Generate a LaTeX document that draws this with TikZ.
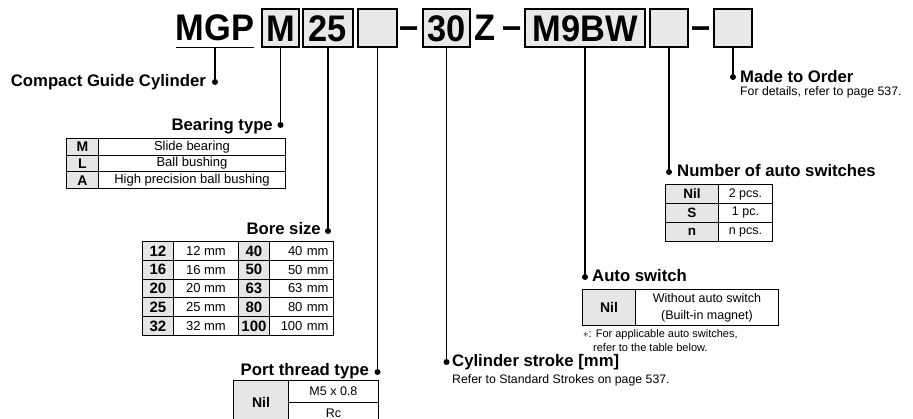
\documentclass[tikz,border=0pt]{standalone}
\usepackage{fontspec}
\setmainfont{Liberation Sans}
\newfontfamily\codefont{Liberation Sans}[FakeStretch=0.93]
\definecolor{boxgray}{RGB}{232,233,233}
\definecolor{keygray}{RGB}{230,230,230}
\begin{document}
\begin{tikzpicture}[x=1pt, y=-1pt,
  codebox/.style={draw, line width=1.3pt, fill=boxgray, inner sep=0pt, minimum height=38pt, text height=26.5pt, text depth=0pt, font=\codefont\bfseries\fontsize{37}{38}\selectfont},
  code/.style={inner sep=0pt, font=\codefont\bfseries\fontsize{37}{38}\selectfont},
  lead/.style={line width=1.3pt},
  dot/.style={circle, fill=black, inner sep=0pt, minimum size=6pt},
  head/.style={inner sep=0pt, font=\bfseries\fontsize{16.7}{18}\selectfont},
  note/.style={inner sep=0pt, font=\fontsize{12.3}{14}\selectfont},
  cell/.style={draw, line width=0.9pt, inner sep=0pt, anchor=north west, align=center, font=\fontsize{13}{15}\selectfont},
  keycell/.style={cell, fill=keygray, font=\bfseries\fontsize{14}{15}\selectfont}]
\clip (0,0) rectangle (913,419);
% model code
\node[code, anchor=base, inner ysep=6pt] (mgp) at (215,41) {MGP};
\node[codebox, minimum width=37pt] (bear) at (280.5,28) {M};
\node[codebox, minimum width=50pt] (bore) at (328,28) {25};
\node[codebox, minimum width=39pt] (port) at (377.5,28) {};
\node[code, anchor=base] (dash1) at (409.5,39) {–};
\node[codebox, minimum width=47pt] (stroke) at (446.5,28) {30};
\node[code, anchor=base] (zz) at (485,41) {Z};
\node[code, anchor=base] (dash2) at (512,39) {–};
\node[codebox, minimum width=120pt] (sw) at (585,28) {M9BW};
\node[codebox, minimum width=38pt] (num) at (669,28) {};
\node[code, anchor=base] (dash3) at (701.5,39) {–};
\node[codebox, minimum width=38pt] (ord) at (733,28) {};
\draw[lead] (mgp.south west) -- (mgp.south east);
% dots and headings
\node[dot] (dcgc) at (215,82) {};
\node[head, anchor=base east] (hcgc) at (206,87) {Compact Guide Cylinder};
\node[dot] (dbear) at (280.5,125) {};
\node[head, anchor=base east] (hbear) at (273,131) {Bearing type};
\node[dot] (dbore) at (328,231) {};
\node[head, anchor=base east] (hbore) at (321,235) {Bore size};
\node[dot] (dport) at (377.5,372) {};
\node[head, anchor=base east] (hport) at (369,376) {Port thread type};
\node[dot] (dstroke) at (446.5,362) {};
\node[head, anchor=base west] (hstroke) at (452,367) {Cylinder stroke [mm]};
\node[note, anchor=base west] (nstroke) at (452,384) {Refer to Standard Strokes on page 537.};
\node[dot] (dsw) at (585,277) {};
\node[head, anchor=base west] (hsw) at (592,282) {Auto switch};
\node[dot] (dnum) at (669,172) {};
\node[head, anchor=base west] (hnum) at (677,177) {Number of auto switches};
\node[dot] (dord) at (733,77) {};
\node[head, anchor=base west] (hord) at (740,83) {Made to Order};
\node[note, anchor=base west] (nord) at (740,96) {For details, refer to page 537.};
% leads
\draw[lead] (mgp.south) -- (dcgc);
\draw[lead] (bear.south) -- (dbear);
\draw[lead] (bore.south) -- (dbore);
\draw[lead] (port.south) -- (dport);
\draw[lead] (stroke.south) -- (dstroke);
\draw[lead] (sw.south) -- (dsw);
\draw[lead] (num.south) -- (dnum);
\draw[lead] (ord.south) -- (dord);
% bearing type
\foreach \k/\d [count=\i from 0] in {M/Slide bearing, L/Ball bushing, A/High precision ball bushing} {
  \node[keycell, minimum width=32pt, minimum height=16.7pt] (bk\i) at (66,{138+16.7*\i}) {\k};
  \node[cell, minimum width=187pt, minimum height=16.7pt] (bd\i) at (98,{138+16.7*\i}) {\d};
}
% bore size
\foreach \a/\b [count=\i from 0] in {12/40, 16/50, 20/63, 25/80, 32/100} {
  \node[keycell, minimum width=31pt, minimum height=18.8pt, font=\bfseries\fontsize{15}{16}\selectfont] (za\i) at (142,{241+18.8*\i}) {\a};
  \node[cell, minimum width=65pt, minimum height=18.8pt, font=\fontsize{13}{15}\selectfont] (zb\i) at (173,{241+18.8*\i}) {\a\ mm};
  \node[keycell, minimum width=31pt, minimum height=18.8pt, font=\bfseries\fontsize{15}{16}\selectfont] (zc\i) at (238,{241+18.8*\i}) {\b};
  \node[cell, minimum width=64pt, minimum height=18.8pt, text width=54pt, inner xsep=5pt, align=right, font=\fontsize{13}{15}\selectfont] (zd\i) at (269,{241+18.8*\i}) {\b\ mm};
}
% port thread type
\node[keycell, minimum width=55pt, minimum height=44pt] (pk) at (233,380) {Nil};
\node[cell, minimum width=90pt, minimum height=22pt, font=\fontsize{12.5}{15}\selectfont] (pd1) at (288,380) {M5 x 0.8};
\node[cell, minimum width=90pt, minimum height=22pt, font=\fontsize{12.5}{15}\selectfont] (pd2) at (288,402) {Rc};
% auto switch
\node[keycell, minimum width=53pt, minimum height=36pt] (sk) at (582,289) {Nil};
\node[cell, minimum width=143pt, minimum height=36pt, font=\fontsize{12.5}{17}\selectfont] (sd) at (635,289) {Without auto switch\\(Built-in magnet)};
\node[note, anchor=base west, font=\fontsize{11}{14}\selectfont] (nsw1) at (583,338) {$\ast$: For applicable auto switches,};
\node[note, anchor=base west, font=\fontsize{11}{14}\selectfont] (nsw2) at (593,352) {refer to the table below.};
% number of auto switches
\foreach \k/\d [count=\i from 0] in {Nil/2 pcs., S/1 pc., n/n pcs.} {
  \node[keycell, minimum width=53pt, minimum height=19pt, font=\bfseries\fontsize{13.5}{15}\selectfont] (nk\i) at (665,{184+19*\i}) {\k};
  \node[cell, minimum width=54pt, minimum height=19pt, font=\fontsize{12.5}{14}\selectfont] (nd\i) at (718,{184+19*\i}) {\d};
}
\end{tikzpicture}
\end{document}
